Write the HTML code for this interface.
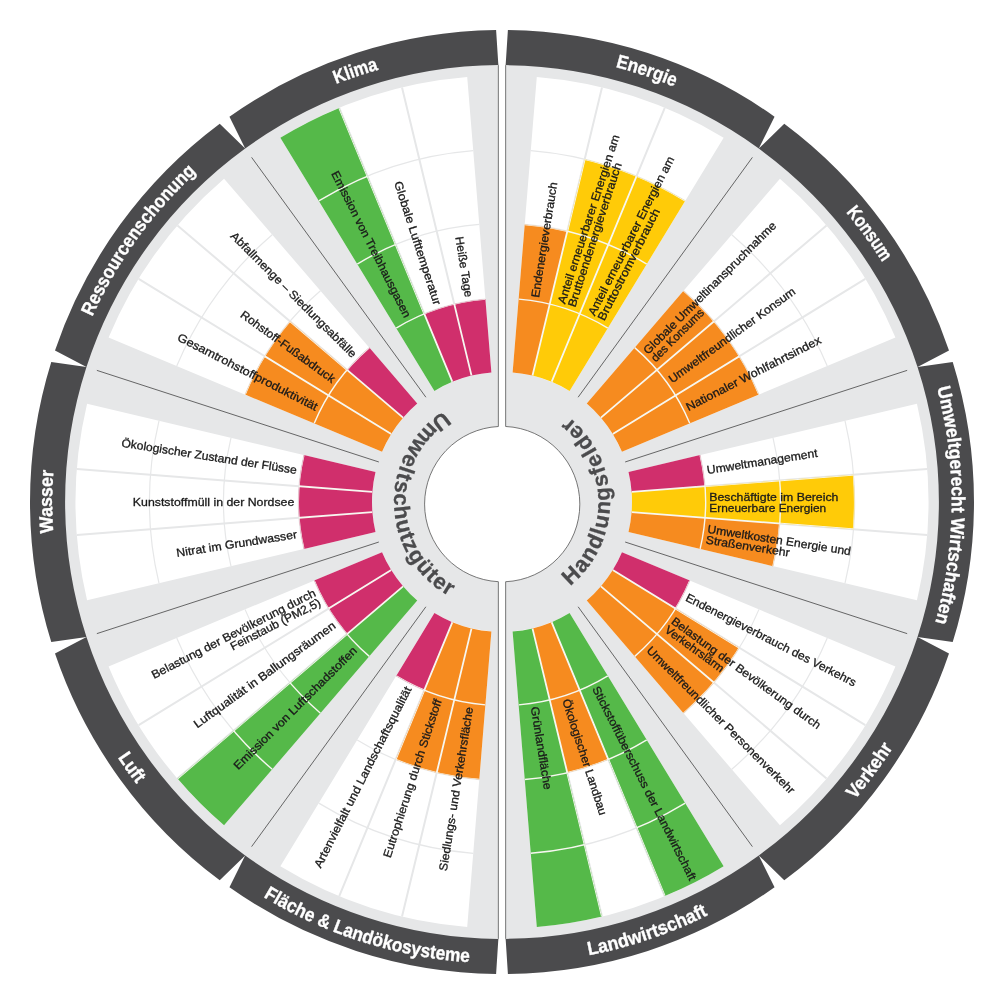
<!DOCTYPE html>
<html lang="de"><head><meta charset="utf-8"><title>Umweltindikatoren</title><style>html,body{margin:0;padding:0;background:#fff}svg{display:block}</style></head><body>
<svg width="1004" height="1004" viewBox="0 0 1004 1004">
<rect width="1004" height="1004" fill="#fff"/>
<path fill="#e6e7e8" d="M498.35 63.62A438.4 438.4 0 0 0 498.35 940.38L498.35 581.7A77.7 77.7 0 0 1 498.35 426.5ZM505.65 63.62A438.4 438.4 0 0 1 505.65 940.38L505.65 581.72A77.7 77.7 0 0 0 505.65 426.48Z"/>
<path fill="none" stroke="#555" stroke-width="0.8" d="M498.35 65.12L498.35 426.5A77.7 77.7 0 0 0 498.35 581.7L498.35 938.88M505.65 65.12L505.65 426.48A77.7 77.7 0 0 1 505.65 581.72L505.65 938.88"/>
<path fill="#fff" d="M434.42 390.94L280.35 137.74A426.4 426.4 0 0 1 467.21 77.02L491.39 372.43A130 130 0 0 0 434.42 390.94ZM382.05 451.87L108.57 337.59A426.4 426.4 0 0 1 224.06 178.63L417.26 403.41A130 130 0 0 0 382.05 451.87ZM375.5 531.95L87.07 600.24A426.4 426.4 0 0 1 87.07 403.76L375.5 472.05A130 130 0 0 0 375.5 531.95ZM417.26 600.59L224.06 825.37A426.4 426.4 0 0 1 108.57 666.41L382.05 552.13A130 130 0 0 0 417.26 600.59ZM491.39 631.57L467.21 926.98A426.4 426.4 0 0 1 280.35 866.26L434.42 613.06A130 130 0 0 0 491.39 631.57ZM512.61 372.43L536.79 77.02A426.4 426.4 0 0 1 723.65 137.74L569.58 390.94A130 130 0 0 0 512.61 372.43ZM586.74 403.41L779.94 178.63A426.4 426.4 0 0 1 895.43 337.59L621.95 451.87A130 130 0 0 0 586.74 403.41ZM628.5 472.05L916.93 403.76A426.4 426.4 0 0 1 916.93 600.24L628.5 531.95A130 130 0 0 0 628.5 472.05ZM621.95 552.13L895.43 666.41A426.4 426.4 0 0 1 779.94 825.37L586.74 600.59A130 130 0 0 0 621.95 552.13ZM569.58 613.06L723.65 866.26A426.4 426.4 0 0 1 536.79 926.98L512.61 631.57A130 130 0 0 0 569.58 613.06Z"/>
<clipPath id="cb"><path d="M471.52 375.62L454.26 304.08A203.6 203.6 0 0 1 485.39 299.08L491.39 372.43A130 130 0 0 0 471.52 375.62ZM452.38 381.84L424.28 313.82A203.6 203.6 0 0 1 454.26 304.08L471.52 375.62A130 130 0 0 0 452.38 381.84ZM434.42 390.94L280.35 137.74A426.4 426.4 0 0 1 339.24 107.89L452.38 381.84A130 130 0 0 0 434.42 390.94ZM403.06 417.68L347.04 369.93A203.6 203.6 0 0 1 369.29 347.6L417.26 403.41A130 130 0 0 0 403.06 417.68ZM391.23 433.96L264.69 356.24A278.5 278.5 0 0 1 290.04 321.35L403.06 417.68A130 130 0 0 0 391.23 433.96ZM382.05 451.87L245.04 394.61A278.5 278.5 0 0 1 264.69 356.24L391.23 433.96A130 130 0 0 0 382.05 451.87ZM372.39 491.94L299.01 486.24A203.6 203.6 0 0 1 303.88 455.09L375.5 472.05A130 130 0 0 0 372.39 491.94ZM372.39 512.06L299.01 517.76A203.6 203.6 0 0 1 299.01 486.24L372.39 491.94A130 130 0 0 0 372.39 512.06ZM375.5 531.95L303.88 548.91A203.6 203.6 0 0 1 299.01 517.76L372.39 512.06A130 130 0 0 0 375.5 531.95ZM391.23 570.04L328.51 608.56A203.6 203.6 0 0 1 314.14 580.5L382.05 552.13A130 130 0 0 0 391.23 570.04ZM403.06 586.32L347.04 634.07A203.6 203.6 0 0 1 328.51 608.56L391.23 570.04A130 130 0 0 0 403.06 586.32ZM417.26 600.59L224.06 825.37A426.4 426.4 0 0 1 177.47 778.58L403.06 586.32A130 130 0 0 0 417.26 600.59ZM452.38 622.16L424.28 690.18A203.6 203.6 0 0 1 396.17 675.93L434.42 613.06A130 130 0 0 0 452.38 622.16ZM471.52 628.38L436.7 772.74A278.5 278.5 0 0 1 395.69 759.41L452.38 622.16A130 130 0 0 0 471.52 628.38ZM491.39 631.57L479.28 779.57A278.5 278.5 0 0 1 436.7 772.74L471.52 628.38A130 130 0 0 0 491.39 631.57ZM512.61 372.43L524.72 224.43A278.5 278.5 0 0 1 567.3 231.26L532.48 375.62A130 130 0 0 0 512.61 372.43ZM532.48 375.62L584.65 159.33A352.5 352.5 0 0 1 636.55 176.19L551.62 381.84A130 130 0 0 0 532.48 375.62ZM551.62 381.84L636.55 176.19A352.5 352.5 0 0 1 685.24 200.87L569.58 390.94A130 130 0 0 0 551.62 381.84ZM586.74 403.41L683.54 290.8A278.5 278.5 0 0 1 713.96 321.35L600.94 417.68A130 130 0 0 0 586.74 403.41ZM600.94 417.68L713.96 321.35A278.5 278.5 0 0 1 739.31 356.24L612.77 433.96A130 130 0 0 0 600.94 417.68ZM612.77 433.96L739.31 356.24A278.5 278.5 0 0 1 758.96 394.61L621.95 451.87A130 130 0 0 0 612.77 433.96ZM628.5 472.05L700.12 455.09A203.6 203.6 0 0 1 704.99 486.24L631.61 491.94A130 130 0 0 0 628.5 472.05ZM631.61 491.94L853.44 474.71A352.5 352.5 0 0 1 853.44 529.29L631.61 512.06A130 130 0 0 0 631.61 491.94ZM631.61 512.06L779.66 523.56A278.5 278.5 0 0 1 773.01 566.16L628.5 531.95A130 130 0 0 0 631.61 512.06ZM621.95 552.13L689.86 580.5A203.6 203.6 0 0 1 675.49 608.56L612.77 570.04A130 130 0 0 0 621.95 552.13ZM612.77 570.04L739.31 647.76A278.5 278.5 0 0 1 713.96 682.65L600.94 586.32A130 130 0 0 0 612.77 570.04ZM600.94 586.32L713.96 682.65A278.5 278.5 0 0 1 683.54 713.2L586.74 600.59A130 130 0 0 0 600.94 586.32ZM569.58 613.06L723.65 866.26A426.4 426.4 0 0 1 664.76 896.11L551.62 622.16A130 130 0 0 0 569.58 613.06ZM551.62 622.16L608.31 759.41A278.5 278.5 0 0 1 567.3 772.74L532.48 628.38A130 130 0 0 0 551.62 622.16ZM532.48 628.38L601.98 916.51A426.4 426.4 0 0 1 536.79 926.98L512.61 631.57A130 130 0 0 0 532.48 628.38Z"/></clipPath>
<defs><path id="grid" d="M452.38 381.84L339.24 107.89M471.52 375.62L402.02 87.49M391.23 433.96L138.67 278.83M403.06 417.68L177.47 225.42M372.39 512.06L76.88 535.01M372.39 491.94L76.88 468.99M403.06 586.32L177.47 778.58M391.23 570.04L138.67 725.17M471.52 628.38L402.02 916.51M452.38 622.16L339.24 896.11M532.48 375.62L601.98 87.49M551.62 381.84L664.76 107.89M600.94 417.68L826.53 225.42M612.77 433.96L865.33 278.83M631.61 491.94L927.12 468.99M631.61 512.06L927.12 535.01M612.77 570.04L865.33 725.17M600.94 586.32L826.53 778.58M551.62 622.16L664.76 896.11M532.48 628.38L601.98 916.51"/><path id="grida" d="M396.17 328.07A203.6 203.6 0 0 1 485.39 299.08M357.23 264.08A278.5 278.5 0 0 1 479.28 224.43M318.76 200.87A352.5 352.5 0 0 1 473.24 150.68M314.14 423.5A203.6 203.6 0 0 1 369.29 347.6M245.04 394.61A278.5 278.5 0 0 1 320.46 290.8M176.76 366.08A352.5 352.5 0 0 1 272.23 234.68M303.88 548.91A203.6 203.6 0 0 1 303.88 455.09M230.99 566.16A278.5 278.5 0 0 1 230.99 437.84M158.98 583.21A352.5 352.5 0 0 1 158.98 420.79M369.29 656.4A203.6 203.6 0 0 1 314.14 580.5M320.46 713.2A278.5 278.5 0 0 1 245.04 609.39M272.23 769.32A352.5 352.5 0 0 1 176.76 637.92M485.39 704.92A203.6 203.6 0 0 1 396.17 675.93M479.28 779.57A278.5 278.5 0 0 1 357.23 739.92M473.24 853.32A352.5 352.5 0 0 1 318.76 803.13M518.61 299.08A203.6 203.6 0 0 1 607.83 328.07M524.72 224.43A278.5 278.5 0 0 1 646.77 264.08M530.76 150.68A352.5 352.5 0 0 1 685.24 200.87M634.71 347.6A203.6 203.6 0 0 1 689.86 423.5M683.54 290.8A278.5 278.5 0 0 1 758.96 394.61M731.77 234.68A352.5 352.5 0 0 1 827.24 366.08M700.12 455.09A203.6 203.6 0 0 1 700.12 548.91M773.01 437.84A278.5 278.5 0 0 1 773.01 566.16M845.02 420.79A352.5 352.5 0 0 1 845.02 583.21M689.86 580.5A203.6 203.6 0 0 1 634.71 656.4M758.96 609.39A278.5 278.5 0 0 1 683.54 713.2M827.24 637.92A352.5 352.5 0 0 1 731.77 769.32M607.83 675.93A203.6 203.6 0 0 1 518.61 704.92M646.77 739.92A278.5 278.5 0 0 1 524.72 779.57M685.24 803.13A352.5 352.5 0 0 1 530.76 853.32"/></defs>
<g fill="none" stroke="#e6e7e8"><use href="#grid" stroke-width="2"/><use href="#grida" stroke-width="1.2"/></g>
<path fill="#55b949" d="M434.42 390.94L280.35 137.74A426.4 426.4 0 0 1 339.24 107.89L452.38 381.84A130 130 0 0 0 434.42 390.94ZM417.26 600.59L224.06 825.37A426.4 426.4 0 0 1 177.47 778.58L403.06 586.32A130 130 0 0 0 417.26 600.59ZM569.58 613.06L723.65 866.26A426.4 426.4 0 0 1 664.76 896.11L551.62 622.16A130 130 0 0 0 569.58 613.06ZM532.48 628.38L601.98 916.51A426.4 426.4 0 0 1 536.79 926.98L512.61 631.57A130 130 0 0 0 532.48 628.38Z"/>
<path fill="#d02f6c" d="M471.52 375.62L454.26 304.08A203.6 203.6 0 0 1 485.39 299.08L491.39 372.43A130 130 0 0 0 471.52 375.62ZM452.38 381.84L424.28 313.82A203.6 203.6 0 0 1 454.26 304.08L471.52 375.62A130 130 0 0 0 452.38 381.84ZM403.06 417.68L347.04 369.93A203.6 203.6 0 0 1 369.29 347.6L417.26 403.41A130 130 0 0 0 403.06 417.68ZM372.39 491.94L299.01 486.24A203.6 203.6 0 0 1 303.88 455.09L375.5 472.05A130 130 0 0 0 372.39 491.94ZM372.39 512.06L299.01 517.76A203.6 203.6 0 0 1 299.01 486.24L372.39 491.94A130 130 0 0 0 372.39 512.06ZM375.5 531.95L303.88 548.91A203.6 203.6 0 0 1 299.01 517.76L372.39 512.06A130 130 0 0 0 375.5 531.95ZM391.23 570.04L328.51 608.56A203.6 203.6 0 0 1 314.14 580.5L382.05 552.13A130 130 0 0 0 391.23 570.04ZM403.06 586.32L347.04 634.07A203.6 203.6 0 0 1 328.51 608.56L391.23 570.04A130 130 0 0 0 403.06 586.32ZM452.38 622.16L424.28 690.18A203.6 203.6 0 0 1 396.17 675.93L434.42 613.06A130 130 0 0 0 452.38 622.16ZM628.5 472.05L700.12 455.09A203.6 203.6 0 0 1 704.99 486.24L631.61 491.94A130 130 0 0 0 628.5 472.05ZM621.95 552.13L689.86 580.5A203.6 203.6 0 0 1 675.49 608.56L612.77 570.04A130 130 0 0 0 621.95 552.13Z"/>
<path fill="#f68b1f" d="M391.23 433.96L264.69 356.24A278.5 278.5 0 0 1 290.04 321.35L403.06 417.68A130 130 0 0 0 391.23 433.96ZM382.05 451.87L245.04 394.61A278.5 278.5 0 0 1 264.69 356.24L391.23 433.96A130 130 0 0 0 382.05 451.87ZM471.52 628.38L436.7 772.74A278.5 278.5 0 0 1 395.69 759.41L452.38 622.16A130 130 0 0 0 471.52 628.38ZM491.39 631.57L479.28 779.57A278.5 278.5 0 0 1 436.7 772.74L471.52 628.38A130 130 0 0 0 491.39 631.57ZM512.61 372.43L524.72 224.43A278.5 278.5 0 0 1 567.3 231.26L532.48 375.62A130 130 0 0 0 512.61 372.43ZM586.74 403.41L683.54 290.8A278.5 278.5 0 0 1 713.96 321.35L600.94 417.68A130 130 0 0 0 586.74 403.41ZM600.94 417.68L713.96 321.35A278.5 278.5 0 0 1 739.31 356.24L612.77 433.96A130 130 0 0 0 600.94 417.68ZM612.77 433.96L739.31 356.24A278.5 278.5 0 0 1 758.96 394.61L621.95 451.87A130 130 0 0 0 612.77 433.96ZM631.61 512.06L779.66 523.56A278.5 278.5 0 0 1 773.01 566.16L628.5 531.95A130 130 0 0 0 631.61 512.06ZM612.77 570.04L739.31 647.76A278.5 278.5 0 0 1 713.96 682.65L600.94 586.32A130 130 0 0 0 612.77 570.04ZM600.94 586.32L713.96 682.65A278.5 278.5 0 0 1 683.54 713.2L586.74 600.59A130 130 0 0 0 600.94 586.32ZM551.62 622.16L608.31 759.41A278.5 278.5 0 0 1 567.3 772.74L532.48 628.38A130 130 0 0 0 551.62 622.16Z"/>
<path fill="#ffcb08" d="M532.48 375.62L584.65 159.33A352.5 352.5 0 0 1 636.55 176.19L551.62 381.84A130 130 0 0 0 532.48 375.62ZM551.62 381.84L636.55 176.19A352.5 352.5 0 0 1 685.24 200.87L569.58 390.94A130 130 0 0 0 551.62 381.84ZM631.61 491.94L853.44 474.71A352.5 352.5 0 0 1 853.44 529.29L631.61 512.06A130 130 0 0 0 631.61 491.94Z"/>
<g fill="none" stroke="#f7f7f0" clip-path="url(#cb)"><use href="#grid" stroke-width="1.8"/><use href="#grida" stroke-width="1.4"/></g>
<path fill="none" stroke="#444" stroke-width="0.8" d="M425.88 397.23L251.6 157.36M378.84 461.98L96.85 370.36M378.84 542.02L96.85 633.64M425.88 606.77L251.6 846.64M578.12 397.23L752.4 157.36M625.16 461.98L907.15 370.36M625.16 542.02L907.15 633.64M578.12 606.77L752.4 846.64"/>
<path fill="#4b4b4d" d="M505.65 65.12L507.9 30.04A472 472 0 0 1 774.55 116.64L758.8 148.54A436.9 436.9 0 0 0 505.65 65.12ZM758.8 148.54L784.28 123.71A472 472 0 0 1 949 350.44L917.52 366.99A436.9 436.9 0 0 0 758.8 148.54ZM917.52 366.99L952.72 361.88A472 472 0 0 1 952.72 642.12L917.52 637.01A436.9 436.9 0 0 0 917.52 366.99ZM917.52 637.01L949 653.56A472 472 0 0 1 784.28 880.29L758.8 855.46A436.9 436.9 0 0 0 917.52 637.01ZM758.8 855.46L774.55 887.36A472 472 0 0 1 507.9 973.96L505.65 938.88A436.9 436.9 0 0 0 758.8 855.46ZM498.35 938.88L496.1 973.96A472 472 0 0 1 229.45 887.36L245.2 855.46A436.9 436.9 0 0 0 498.35 938.88ZM245.2 855.46L219.72 880.29A472 472 0 0 1 55 653.56L86.48 637.01A436.9 436.9 0 0 0 245.2 855.46ZM86.48 637.01L51.28 642.12A472 472 0 0 1 51.28 361.88L86.48 366.99A436.9 436.9 0 0 0 86.48 637.01ZM86.48 366.99L55 350.44A472 472 0 0 1 219.72 123.71L245.2 148.54A436.9 436.9 0 0 0 86.48 366.99ZM245.2 148.54L229.45 116.64A472 472 0 0 1 496.1 30.04L498.35 65.12A436.9 436.9 0 0 0 245.2 148.54Z"/>
<g font-family="'Liberation Sans', sans-serif" font-size="11.6" fill="#1a1a1a" stroke="#1a1a1a" stroke-width="0.3">
<text transform="translate(469.08 296.93) rotate(80.88)" y="4.1" text-anchor="end" textLength="61.1" lengthAdjust="spacingAndGlyphs">Heiße Tage</text>
<text transform="translate(437.82 304.47) rotate(72)" y="4.1" text-anchor="end" textLength="129.4" lengthAdjust="spacingAndGlyphs">Globale Lufttemperatur</text>
<text transform="translate(408.09 316.74) rotate(63.12)" y="4.1" text-anchor="end" textLength="162.6" lengthAdjust="spacingAndGlyphs">Emission von Treibhausgasen</text>
<text transform="translate(354.83 355.44) rotate(44.88)" y="4.1" text-anchor="end" textLength="172.3" lengthAdjust="spacingAndGlyphs">Abfallmenge – Siedlungsabfälle</text>
<text transform="translate(333.97 379.92) rotate(36)" y="4.1" text-anchor="end" textLength="113.7" lengthAdjust="spacingAndGlyphs">Rohstoff-Fußabdruck</text>
<text transform="translate(317.14 407.32) rotate(27.12)" y="4.1" text-anchor="end" textLength="155.8" lengthAdjust="spacingAndGlyphs">Gesamtrohstoffproduktivität</text>
<text transform="translate(296.79 469.94) rotate(8.88)" y="4.1" text-anchor="end" textLength="177.3" lengthAdjust="spacingAndGlyphs">Ökologischer Zustand der Flüsse</text>
<text transform="translate(294.3 502) rotate(-0)" y="4.1" text-anchor="end" textLength="161.5" lengthAdjust="spacingAndGlyphs">Kunststoffmüll in der Nordsee</text>
<text transform="translate(296.79 534.06) rotate(-8.88)" y="4.1" text-anchor="end" textLength="121.8" lengthAdjust="spacingAndGlyphs">Nitrat im Grundwasser</text>
<text transform="translate(317.14 596.68) rotate(-27.12)" y="-1.2" text-anchor="end" textLength="182.7" lengthAdjust="spacingAndGlyphs">Belastung der Bevölkerung durch</text>
<text transform="translate(317.14 596.68) rotate(-27.12)" y="9.6" text-anchor="end" textLength="99.8" lengthAdjust="spacingAndGlyphs">Feinstaub (PM2,5)</text>
<text transform="translate(333.97 624.08) rotate(-36)" y="4.1" text-anchor="end" textLength="171.9" lengthAdjust="spacingAndGlyphs">Luftqualität in Ballungsräumen</text>
<text transform="translate(354.83 648.56) rotate(-44.88)" y="4.1" text-anchor="end" textLength="168.5" lengthAdjust="spacingAndGlyphs">Emission von Luftschadstoffen</text>
<text transform="translate(408.09 687.26) rotate(-63.12)" y="4.1" text-anchor="end" textLength="201.5" lengthAdjust="spacingAndGlyphs">Artenvielfalt und Landschaftsqualität</text>
<text transform="translate(437.82 699.53) rotate(-72)" y="4.1" text-anchor="end" textLength="165.8" lengthAdjust="spacingAndGlyphs">Eutrophierung durch Stickstoff</text>
<text transform="translate(469.08 707.07) rotate(-80.88)" y="4.1" text-anchor="end" textLength="165.8" lengthAdjust="spacingAndGlyphs">Siedlungs- und Verkehrsfläche</text>
<text transform="translate(534.86 297.32) rotate(-80.88)" y="4.1" text-anchor="start" textLength="116.6" lengthAdjust="spacingAndGlyphs">Endenergieverbrauch</text>
<text transform="translate(566.06 304.85) rotate(-72)" y="-1.2" text-anchor="start" textLength="176.7" lengthAdjust="spacingAndGlyphs">Anteil erneuerbarer Energien am</text>
<text transform="translate(566.06 304.85) rotate(-72)" y="9.6" text-anchor="start" textLength="151" lengthAdjust="spacingAndGlyphs">Bruttoendenergieverbrauch</text>
<text transform="translate(595.73 317.1) rotate(-63.12)" y="-1.2" text-anchor="start" textLength="176.7" lengthAdjust="spacingAndGlyphs">Anteil erneuerbarer Energien am</text>
<text transform="translate(595.73 317.1) rotate(-63.12)" y="9.6" text-anchor="start" textLength="123.7" lengthAdjust="spacingAndGlyphs">Bruttostromverbrauch</text>
<text transform="translate(648.89 355.72) rotate(-44.88)" y="-1.2" text-anchor="start" textLength="182" lengthAdjust="spacingAndGlyphs">Globale Umweltinanspruchnahme</text>
<text transform="translate(648.89 355.72) rotate(-44.88)" y="9.6" text-anchor="start" textLength="69.4" lengthAdjust="spacingAndGlyphs">des Konsums</text>
<text transform="translate(669.71 380.15) rotate(-36)" y="4.1" text-anchor="start" textLength="153.5" lengthAdjust="spacingAndGlyphs">Umweltfreundlicher Konsum</text>
<text transform="translate(686.51 407.5) rotate(-27.12)" y="4.1" text-anchor="start" textLength="150.1" lengthAdjust="spacingAndGlyphs">Nationaler Wohlfahrtsindex</text>
<text transform="translate(706.82 470) rotate(-8.88)" y="4.1" text-anchor="start" textLength="111.9" lengthAdjust="spacingAndGlyphs">Umweltmanagement</text>
<text transform="translate(709.3 502) rotate(0)" y="-1.2" text-anchor="start" textLength="129.1" lengthAdjust="spacingAndGlyphs">Beschäftigte im Bereich</text>
<text transform="translate(709.3 502) rotate(0)" y="9.6" text-anchor="start" textLength="116.9" lengthAdjust="spacingAndGlyphs">Erneuerbare Energien</text>
<text transform="translate(706.82 534) rotate(8.88)" y="-1.2" text-anchor="start" textLength="145" lengthAdjust="spacingAndGlyphs">Umweltkosten Energie und</text>
<text transform="translate(706.82 534) rotate(8.88)" y="9.6" text-anchor="start" textLength="84.7" lengthAdjust="spacingAndGlyphs">Straßenverkehr</text>
<text transform="translate(686.51 596.5) rotate(27.12)" y="4.1" text-anchor="start" textLength="189.9" lengthAdjust="spacingAndGlyphs">Endenergieverbrauch des Verkehrs</text>
<text transform="translate(669.71 623.85) rotate(36)" y="-1.2" text-anchor="start" textLength="181.6" lengthAdjust="spacingAndGlyphs">Belastung der Bevölkerung durch</text>
<text transform="translate(669.71 623.85) rotate(36)" y="9.6" text-anchor="start" textLength="69.9" lengthAdjust="spacingAndGlyphs">Verkehrslärm</text>
<text transform="translate(648.89 648.28) rotate(44.88)" y="4.1" text-anchor="start" textLength="203.4" lengthAdjust="spacingAndGlyphs">Umweltfreundlicher Personenverkehr</text>
<text transform="translate(595.73 686.9) rotate(63.12)" y="4.1" text-anchor="start" textLength="215.8" lengthAdjust="spacingAndGlyphs">Stickstoffüberschuss der Landwirtschaft</text>
<text transform="translate(566.06 699.15) rotate(72)" y="4.1" text-anchor="start" textLength="121.5" lengthAdjust="spacingAndGlyphs">Ökologischer Landbau</text>
<text transform="translate(534.86 706.68) rotate(80.88)" y="4.1" text-anchor="start" textLength="83.8" lengthAdjust="spacingAndGlyphs">Grünlandfläche</text>
</g>
<defs>
<path id="cw" d="M502 951.5A449.5 449.5 0 1 1 502 52.5A449.5 449.5 0 1 1 502 951.5"/>
<path id="ccw" d="M502 40.5A461.5 461.5 0 1 0 502 963.5A461.5 461.5 0 1 0 502 40.5"/>
<path id="cc" d="M502 394A108 108 0 1 0 502 610A108 108 0 1 0 502 394"/>
</defs>
<g font-family="'Liberation Sans', sans-serif" font-weight="bold" font-size="19" fill="#fff" stroke="#fff" stroke-width="0.35">
<text><textPath href="#cw" startOffset="1242.45" textLength="44.8" lengthAdjust="spacingAndGlyphs">Klima</textPath></text>
<text><textPath href="#cw" startOffset="897.1" textLength="179.42" lengthAdjust="spacingAndGlyphs">Ressourcenschonung</textPath></text>
<text><textPath href="#cw" startOffset="675.01" textLength="62.92" lengthAdjust="spacingAndGlyphs">Wasser</textPath></text>
<text><textPath href="#ccw" startOffset="995.56" textLength="32.62" lengthAdjust="spacingAndGlyphs">Luft</textPath></text>
<text><textPath href="#ccw" startOffset="1198.78" textLength="218.2" lengthAdjust="spacingAndGlyphs">Fläche &amp; Landökosysteme</textPath></text>
<text><textPath href="#cw" startOffset="1527.16" textLength="61.98" lengthAdjust="spacingAndGlyphs">Energie</textPath></text>
<text><textPath href="#cw" startOffset="1803.78" textLength="61.98" lengthAdjust="spacingAndGlyphs">Konsum</textPath></text>
<text><textPath href="#cw" startOffset="2002.97" textLength="237.63" lengthAdjust="spacingAndGlyphs">Umweltgerecht Wirtschaften</textPath></text>
<text><textPath href="#ccw" startOffset="1850.97" textLength="64.76" lengthAdjust="spacingAndGlyphs">Verkehr</textPath></text>
<text><textPath href="#ccw" startOffset="1536.84" textLength="126.46" lengthAdjust="spacingAndGlyphs">Landwirtschaft</textPath></text>
</g>
<g font-family="'Liberation Sans', sans-serif" font-weight="bold" font-size="22" fill="#4b4b4d" stroke="#4b4b4d" stroke-width="0.3">
<text><textPath href="#cc" startOffset="62.02" textLength="221.67" lengthAdjust="spacing">Umweltschutzgüter</textPath></text>
<text><textPath href="#cc" startOffset="412.43" textLength="193.4" lengthAdjust="spacing">Handlungsfelder</textPath></text>
</g>
</svg>
</body></html>
